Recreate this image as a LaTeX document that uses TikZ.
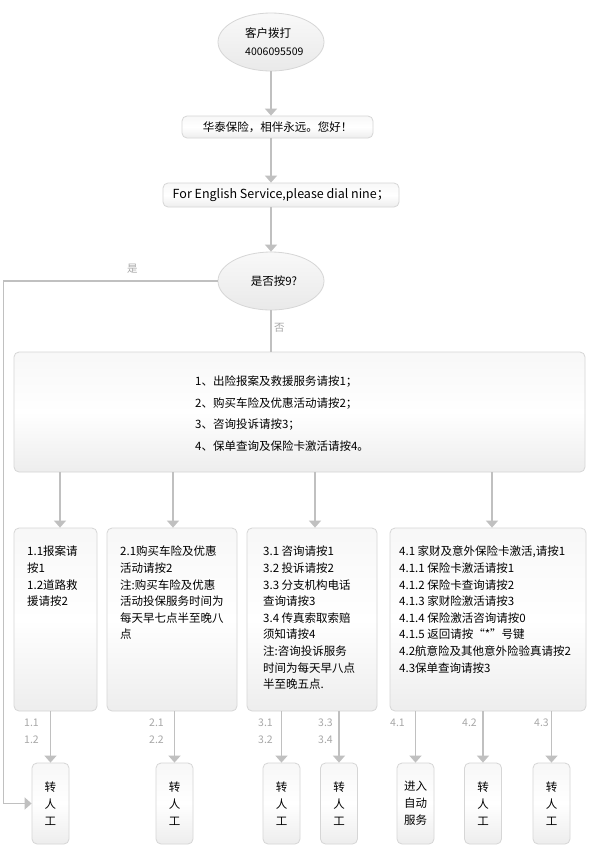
\documentclass[tikz,border=0pt]{standalone}
\usepackage{fontspec}
\setmainfont{Noto Sans CJK SC}
\usetikzlibrary{shapes.geometric,arrows.meta}
\definecolor{ln}{HTML}{C0C0C0}
\definecolor{bd}{HTML}{D6D6D6}
\definecolor{lab}{HTML}{A8A8A8}
\begin{document}
\begin{tikzpicture}[x=1pt,y=-1pt,
  conn/.style={draw=ln,line width=1.3pt},
  arr/.style={conn,-{Triangle[width=12pt,length=7pt]}},
  oval/.style={ellipse,draw=bd,line width=0.8pt,top color=gray!5,bottom color=gray!17,minimum width=106pt,minimum height=58pt,inner sep=0pt},
  box/.style={rectangle,rounded corners=5pt,draw=bd,line width=0.8pt,top color=gray!6,bottom color=gray!14,middle color=white,inner sep=0pt},
  txt/.style={inner sep=0pt,anchor=north west,align=left,font=\fontsize{11.5}{16.6}\selectfont},
  lbl/.style={inner sep=0pt,anchor=west,text=lab,font=\fontsize{10.5}{12}\selectfont},
  small/.style={box,minimum width=37pt,minimum height=81pt,align=center,font=\fontsize{11.5}{17}\selectfont}
]
\useasboundingbox (0,0) rectangle (590,855);
\fill[white] (0,0) rectangle (590,855);

% top
\node[oval] (e1) at (271,42) {};
\node[txt,anchor=west] (e1t) at (245,33) {客户拨打};
\node[txt,anchor=west,font=\fontsize{10.5}{12}\selectfont] (e1n) at (245,52) {4006095509};
\node[box,minimum width=191pt,minimum height=22pt,font=\fontsize{11.5}{14}\selectfont] (b2) at (277.5,127) {华泰保险，相伴永远。您好！};
\node[box,minimum width=236pt,minimum height=24pt,font=\fontsize{12.5}{14}\selectfont] (b3) at (281,195) {For English Service,please dial nine；};
\node[oval] (e2) at (271,281) {};
\node[inner sep=0pt,font=\fontsize{11.5}{14}\selectfont] (e2t) at (274,281) {是否按9?};

\draw[arr] (e1.south) -- (e1.south |- b2.north);
\draw[arr] (e1.south |- b2.south) -- (e1.south |- b3.north);
\draw[arr] (e1.south |- b3.south) -- (e2.north);

% big box
\node[box,minimum width=571pt,minimum height=120pt] (big) at (299.5,412) {};
\node[txt,font=\fontsize{11.5}{21.5}\selectfont] (bigt) at (195,376) {1、出险报案及救援服务请按1；\\2、购买车险及优惠活动请按2；\\3、咨询投诉请按3；\\4、保单查询及保险卡激活请按4。};
\draw[conn] (e2.south) -- (e2.south |- big.north);
\node[lbl] (no) at (274,328) {否};

% second level boxes
\node[box,minimum width=83pt,minimum height=183pt] (A) at (55.5,619.5) {};
\node[box,minimum width=130pt,minimum height=183pt] (B) at (172,619.5) {};
\node[box,minimum width=130pt,minimum height=183pt] (C) at (312,619.5) {};
\node[box,minimum width=196pt,minimum height=183pt] (D) at (488,619.5) {};

\node[txt] (At) at (27,546) {1.1报案请\\按1\\1.2道路救\\援请按2};
\node[txt] (Bt) at (120,546) {2.1购买车险及优惠\\活动请按2\\注:购买车险及优惠\\活动投保服务时间为\\每天早七点半至晚八\\点};
\node[txt] (Ct) at (263,546) {3.1 咨询请按1\\3.2 投诉请按2\\3.3 分支机构电话\\查询请按3\\3.4 传真索取索赔\\须知请按4\\注:咨询投诉服务\\时间为每天早八点\\半至晚五点.};
\node[txt] (Dt) at (399,546) {4.1 家财及意外保险卡激活,请按1\\4.1.1 保险卡激活请按1\\4.1.2 保险卡查询请按2\\4.1.3 家财险激活请按3\\4.1.4 保险激活咨询请按0\\4.1.5 返回请按“*”号键\\4.2航意险及其他意外险验真请按2\\4.3保单查询请按3};

\coordinate (ba) at (60,472);
\coordinate (bb) at (173,472);
\coordinate (bc) at (315,472);
\coordinate (bd) at (492,472);
\draw[arr] (ba) -- (ba |- A.north);
\draw[arr] (bb) -- (bb |- B.north);
\draw[arr] (bc) -- (bc |- C.north);
\draw[arr] (bd) -- (bd |- D.north);

% bottom boxes
\node[small] (T1) at (50.5,803.5) {转\\人\\工};
\node[small] (T2) at (174.5,803.5) {转\\人\\工};
\node[small] (T3) at (281.5,803.5) {转\\人\\工};
\node[small] (T4) at (339,803.5) {转\\人\\工};
\node[small] (T5) at (415.5,803.5) {进入\\自动\\服务};
\node[small] (T6) at (483,803.5) {转\\人\\工};
\node[small] (T7) at (551.5,803.5) {转\\人\\工};

\draw[arr] (T1.north |- A.south) -- (T1.north);
\draw[arr] (T2.north |- B.south) -- (T2.north);
\draw[arr] (T3.north |- C.south) -- (T3.north);
\draw[arr] (T4.north |- C.south) -- (T4.north);
\draw[arr] (T5.north |- D.south) -- (T5.north);
\draw[arr] (T6.north |- D.south) -- (T6.north);
\draw[arr] (T7.north |- D.south) -- (T7.north);

\node[lbl] (l11) at (24,723) {1.1};
\node[lbl] (l12) at (24,740) {1.2};
\node[lbl] (l21) at (149,723) {2.1};
\node[lbl] (l22) at (149,740) {2.2};
\node[lbl] (l31) at (258,723) {3.1};
\node[lbl] (l32) at (258,740) {3.2};
\node[lbl] (l33) at (318,723) {3.3};
\node[lbl] (l34) at (318,740) {3.4};
\node[lbl] (l41) at (390,723) {4.1};
\node[lbl] (l42) at (462,723) {4.2};
\node[lbl] (l43) at (534,723) {4.3};

% yes branch
\coordinate (yc) at (3.5,281);
\draw[arr] (e2.west) -- (yc) -- (yc |- T1.west) -- (T1.west);
\node[lbl] (yes) at (127,269) {是};
\end{tikzpicture}
\end{document}
